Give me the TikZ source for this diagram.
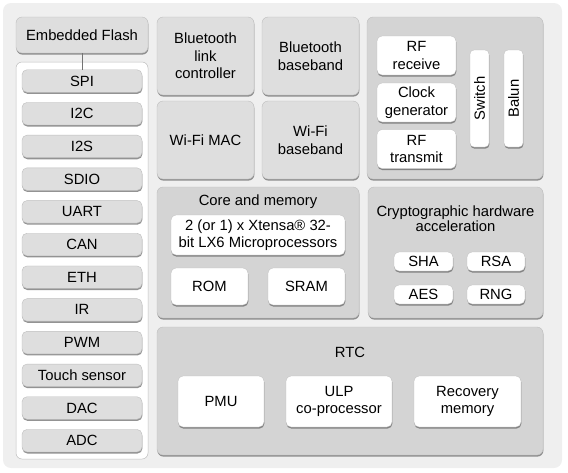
\documentclass[tikz,border=0pt]{standalone}
\usepackage{fontspec}
\setmainfont{Liberation Sans}
\usepackage{tikz}
\usetikzlibrary{positioning,shadows}

\definecolor{outerbg}{RGB}{239,239,239}
\definecolor{panelgray}{RGB}{212,212,212}
\definecolor{boxgray}{RGB}{222,222,222}
\definecolor{edgegray}{RGB}{190,190,190}

\begin{document}
\begin{tikzpicture}[x=1pt, y=-1pt,
    every node/.style = {font=\fontsize{14.8}{17.5}\selectfont, align=center, inner sep=0pt},
    shade/.style = {drop shadow={shadow xshift=0.4pt, shadow yshift=-1.6pt, fill=black!70, opacity=.6}},
    panel/.style = {fill=panelgray, draw=edgegray, line width=.4pt, rounded corners=6pt, shade},
    block/.style = {fill=boxgray, draw=edgegray, line width=.4pt, rounded corners=6pt, shade},
    whitebox/.style = {fill=white, draw=edgegray, line width=.3pt, rounded corners=5pt, shade},
    port/.style = {block, rounded corners=5pt, minimum width=120pt, minimum height=22.5pt}]
    \useasboundingbox (0,0) rectangle (568,472);
    \node[fill=outerbg, rounded corners=8pt, minimum width=559pt, minimum height=465pt] (chip) at (282.5,235.5) {};

    % peripherals column
    \node[block, minimum width=132pt, minimum height=36pt] (flash) at (82,35) {Embedded Flash};
    \node[fill=white, draw=edgegray, line width=.5pt, rounded corners=6pt, minimum width=132pt, minimum height=397pt] (periph) at (82,260.5) {};
    \node[port] (spi) at (82,81) {SPI};
    \node[port] (i2c) [below=9.8pt of spi] {I2C};
    \node[port] (i2s) [below=9.8pt of i2c] {I2S};
    \node[port] (sdio) [below=9.8pt of i2s] {SDIO};
    \node[port] (uart) [below=9.8pt of sdio] {UART};
    \node[port] (can) [below=9.8pt of uart] {CAN};
    \node[port] (eth) [below=9.8pt of can] {ETH};
    \node[port] (ir) [below=9.8pt of eth] {IR};
    \node[port] (pwm) [below=9.8pt of ir] {PWM};
    \node[port] (touch) [below=9.8pt of pwm] {Touch sensor};
    \node[port] (dac) [below=9.8pt of touch] {DAC};
    \node[port] (adc) [below=9.8pt of dac] {ADC};
    \draw[black!55, line width=.6pt] (flash) -- (spi);

    % radio
    \node[block, minimum width=97pt, minimum height=78pt] (btlink) at (205.5,56) {Bluetooth\\link\\controller};
    \node[block, minimum width=97pt, minimum height=78pt] (btbase) at (310.5,56) {Bluetooth\\baseband};
    \node[block, minimum width=97pt, minimum height=78pt] (wifimac) at (205.5,140) {Wi-Fi MAC};
    \node[block, minimum width=97pt, minimum height=78pt] (wifibase) at (310.5,140) {Wi-Fi\\baseband};

    \node[panel, minimum width=176pt, minimum height=162pt] (rf) at (455,98) {};
    \node[whitebox, minimum width=79pt, minimum height=39pt] (rfrx) at (416.5,55.5) {RF\\receive};
    \node[whitebox, minimum width=79pt, minimum height=39pt] (clock) at (416.5,102.5) {Clock\\generator};
    \node[whitebox, minimum width=79pt, minimum height=39pt] (rftx) at (416.5,149) {RF\\transmit};
    \node[whitebox, rounded corners=4pt, rotate=90, minimum width=97pt, minimum height=19pt] (switch) at (479.5,98.5) {Switch};
    \node[whitebox, rounded corners=4pt, rotate=90, minimum width=97pt, minimum height=19pt] (balun) at (513.5,98.5) {Balun};

    % core
    \node[panel, minimum width=202pt, minimum height=131pt] (core) at (258,252.5) {};
    \node (coretitle) at (258,202) {Core and memory};
    \node[whitebox, minimum width=174pt, minimum height=40pt] (cpu) at (258,235) {2 (or 1) x Xtensa® 32-\\bit LX6 Microprocessors};
    \node[whitebox, minimum width=77pt, minimum height=37pt] (rom) at (209.5,286.5) {ROM};
    \node[whitebox, minimum width=77pt, minimum height=37pt] (sram) at (306.5,286.5) {SRAM};

    % crypto
    \node[panel, minimum width=175pt, minimum height=131pt] (crypto) at (455.5,252.5) {};
    \node[font=\fontsize{14.8}{13.5}\selectfont] (cryptotitle) at (455.5,219) {Cryptographic hardware\\acceleration};
    \node[whitebox, minimum width=59pt, minimum height=19pt] (sha) at (423.5,261.5) {SHA};
    \node[whitebox, minimum width=58pt, minimum height=19pt] (rsa) at (496,261.5) {RSA};
    \node[whitebox, minimum width=59pt, minimum height=19pt] (aes) at (423.5,294.5) {AES};
    \node[whitebox, minimum width=58pt, minimum height=19pt] (rng) at (496,294.5) {RNG};

    % rtc
    \node[panel, minimum width=386pt, minimum height=128pt] (rtc) at (350,391) {};
    \node (rtctitle) at (350,352) {RTC};
    \node[whitebox, minimum width=86pt, minimum height=51pt] (pmu) at (221,401.5) {PMU};
    \node[whitebox, minimum width=106pt, minimum height=51pt] (ulp) at (339,401.5) {ULP\\co-processor};
    \node[whitebox, minimum width=107pt, minimum height=51pt] (recovery) at (467.5,401.5) {Recovery\\memory};
\end{tikzpicture}
\end{document}
